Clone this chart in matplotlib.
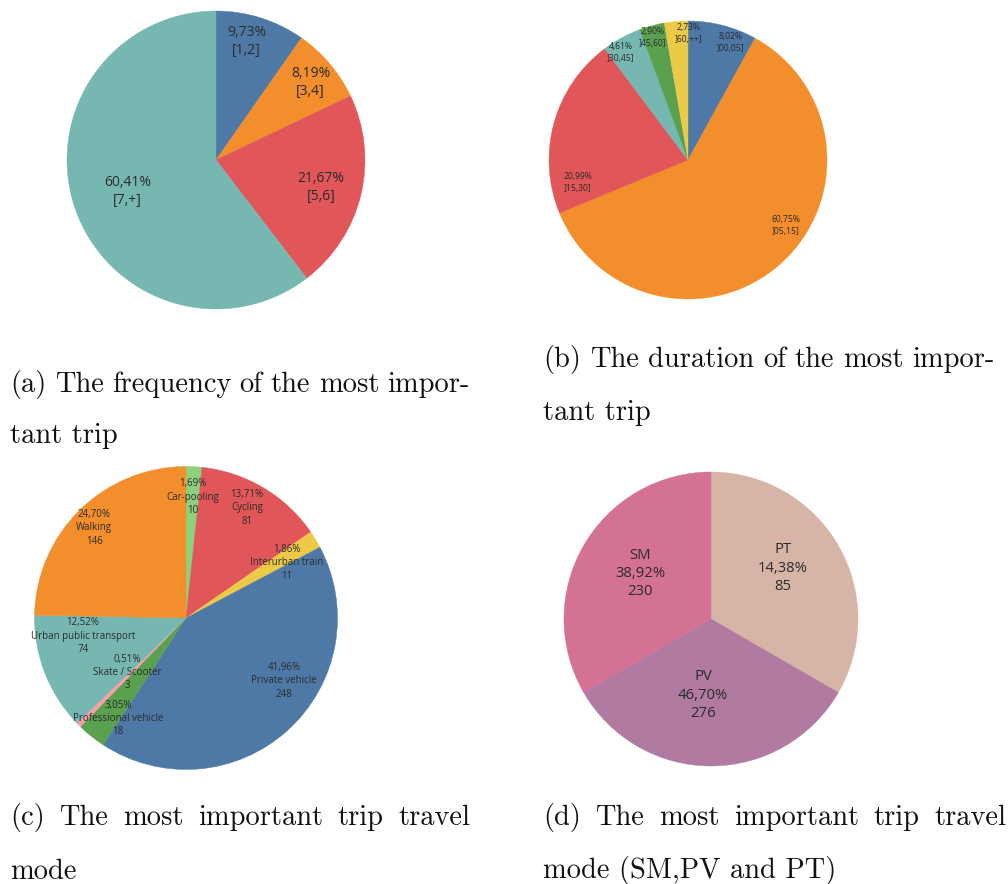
import matplotlib
matplotlib.use("Agg")
import matplotlib.pyplot as plt
import numpy as np

W, H = 1008, 884

# ---------------- data ----------------
freq_labels = ["[1,2]", "[3,4]", "[5,6]", "[7,+]"]
freq_pct = [9.73, 8.19, 21.67, 60.41]

dur_labels = ["]00,05]", "]05,15]", "]15,30]", "]30,45]", "]45,60]", "]60,++]"]
dur_pct = [8.02, 60.75, 20.99, 4.61, 2.90, 2.73]

mode_labels = ["Car-pooling", "Cycling", "Interurban train", "Private vehicle",
               "Professional vehicle", "Skate / Scooter", "Urban public transport", "Walking"]
mode_pct = [1.69, 13.71, 1.86, 41.96, 3.05, 0.51, 12.52, 24.70]
mode_counts = [10, 81, 11, 248, 18, 3, 74, 146]

group_labels = ["PT", "PV", "SM"]
group_pct = [14.38, 46.70, 38.92]
group_counts = [85, 276, 230]
group_slice = [1, 1, 1]  # the source draws three equal slices

captions = [
    ("(a) The frequency of the most impor-", "tant trip"),
    ("(b) The duration of the most impor-", "tant trip"),
    ("(c) The most important trip travel", "mode"),
    ("(d) The most important trip travel", "mode (SM,PV and PT)"),
]

# ---------------- styles ----------------
BLUE, ORANGE, RED, TEAL = "#4E79A7", "#F28E2B", "#E15759", "#76B7B2"
GREEN, YELLOW, PINK, LGREEN = "#59A14F", "#EDC948", "#FF9DA7", "#8CD17D"
freq_colors = [BLUE, ORANGE, RED, TEAL]
dur_colors = [BLUE, ORANGE, RED, TEAL, GREEN, YELLOW]
mode_colors = [LGREEN, RED, YELLOW, BLUE, GREEN, PINK, TEAL, ORANGE]
group_colors = ["#D7B5A6", "#B07AA1", "#D37295"]
TXT = "#2b2b2b"
LABEL_FONT = ["Open Sans", "DejaVu Sans"]


def pct(v):
    return f"{v:.2f}".replace(".", ",") + "%"


fig = plt.figure(figsize=(W / 100, H / 100), dpi=100)
fig.patch.set_facecolor("white")

PAD = 1.02


def draw_pie(cx, cy, r, sizes, colors, texts, fracs, offsets, fs, ls):
    R = r * PAD
    ax = fig.add_axes([(cx - R) / W, 1 - (cy + R) / H, 2 * R / W, 2 * R / H])
    wedges, _ = ax.pie(sizes, colors=colors, startangle=90, counterclock=False, radius=1,
                       wedgeprops=dict(linewidth=0.3))
    for w, c in zip(wedges, colors):
        w.set_edgecolor(c)
    ax.set_xlim(-PAD, PAD)
    ax.set_ylim(-PAD, PAD)
    ax.set_aspect("equal")
    ax.axis("off")
    total = float(sum(sizes))
    cum = 0.0
    for s, t, f, o in zip(sizes, texts, fracs, offsets):
        mid = (cum + s / 2.0) / total * 360.0 + o
        cum += s
        th = np.deg2rad(mid)
        ax.text(f * np.sin(th), f * np.cos(th), t, ha="center", va="center",
                fontsize=fs, color=TXT, family=LABEL_FONT, linespacing=ls,
                multialignment="center")
    return ax


# (a)
draw_pie(216, 160, 149, freq_pct, freq_colors,
         [f"{pct(p)}\n{l}" for p, l in zip(freq_pct, freq_labels)],
         [0.82, 0.82, 0.73, 0.63], [-3, 1, 1, -1], 10, 1.3)

# (b)
draw_pie(688, 160, 139, dur_pct, dur_colors,
         [f"{pct(p)}\n{l}" for p, l in zip(dur_pct, dur_labels)],
         [0.90, 0.85, 0.81, 0.91, 0.92, 0.91], [5.6, -14.4, -27, -3.5, -1.2, 5], 6.2, 1.4)

# (c)
draw_pie(186, 618, 151.5, mode_pct, mode_colors,
         [f"{pct(p)}\n{l}\n{c}" for p, l, c in zip(mode_pct, mode_labels, mode_counts)],
         [0.80, 0.83, 0.76, 0.77, 0.80, 0.53, 0.69, 0.85],
         [0.3, -1.8, 2.6, -15, -4.5, 2, 11.5, -1.1], 7.0, 1.28)

# (d)
draw_pie(711, 619, 147, group_slice, group_colors,
         [f"{l}\n{pct(p)}\n{c}" for l, p, c in zip(group_labels, group_pct, group_counts)],
         [0.60, 0.52, 0.57], [-5.3, 6, 2.7], 10.7, 1.28)

# ---------------- captions ----------------
CAP_FONT = "cmr10"
CAP_FS = 20.5
renderer = fig.canvas.get_renderer()


def justified(text, x0, x1, ybase):
    words = text.split(" ")
    objs = []
    widths = []
    for w in words:
        t = fig.text(0, 1 - ybase / H, w, family=CAP_FONT, fontsize=CAP_FS,
                     ha="left", va="baseline", color="#111111")
        bb = t.get_window_extent(renderer=renderer)
        objs.append(t)
        widths.append(bb.width)
    gap = (x1 - x0 - sum(widths)) / (len(words) - 1)
    x = x0
    for t, wd in zip(objs, widths):
        t.set_x(x / W)
        x += wd + gap


def plain(text, x0, ybase):
    fig.text(x0 / W, 1 - ybase / H, text, family=CAP_FONT, fontsize=CAP_FS,
             ha="left", va="baseline", color="#111111")


cap_layout = [
    (10, 470, 392, 443),
    (543, 995, 367, 420),
    (10, 470, 825, 879),
    (543, 1006, 825, 878),
]
for (l1, l2), (x0, x1, y1, y2) in zip(captions, cap_layout):
    justified(l1, x0, x1, y1)
    plain(l2, x0, y2)

fig.savefig("out.png", dpi=100, facecolor="white")
